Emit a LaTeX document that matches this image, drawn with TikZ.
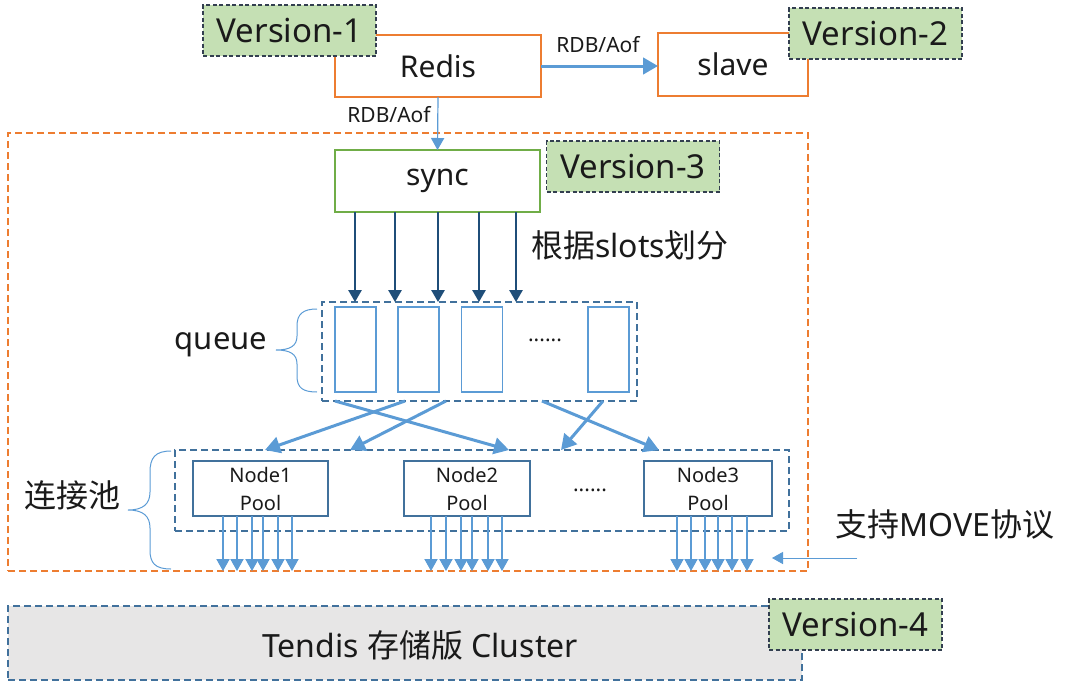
\documentclass[tikz,border=0pt]{standalone}
\usepackage{fontspec}
\setmainfont{Noto Sans}
\newfontfamily\cjk{Noto Sans CJK SC}
\usetikzlibrary{arrows.meta}
\definecolor{orng}{HTML}{ED7D31}
\definecolor{grfill}{HTML}{C5E0B4}
\definecolor{grline}{HTML}{70AD47}
\definecolor{lblue}{HTML}{5B9BD5}
\definecolor{dblue}{HTML}{1F4E79}
\definecolor{mblue}{HTML}{41719C}
\definecolor{vline}{HTML}{333F50}
\definecolor{gfill}{HTML}{E7E6E6}
\definecolor{txt}{HTML}{1A1A1A}
\tikzset{
  every node/.style={text=txt, inner sep=0pt, outer sep=0pt},
  obox/.style={draw=orng, line width=1.5pt, fill=white},
  verbox/.style={draw=vline, dashed, line width=1.3pt, dash pattern=on 4pt off 2.5pt, fill=grfill, minimum width=173pt, minimum height=51pt, font=\fontsize{33}{36}\selectfont},
  cell/.style={draw=lblue, line width=1.5pt, minimum width=41pt, minimum height=85pt},
  nodebox/.style={draw=mblue, line width=1.5pt, minimum height=55pt, align=center, font=\fontsize{20}{28}\selectfont},
  bdash/.style={draw=mblue, line width=1.5pt, dash pattern=on 7pt off 4pt},
  tip/.style={-{Triangle[width=#1*1.1, length=#1]}},
  thickarr/.style={lblue, line width=3pt, tip=15pt},
  thinarr/.style={lblue, line width=1.2pt, tip=12pt},
  darr/.style={dblue, line width=2.2pt, tip=12pt},
  brace/.style={lblue, line width=1pt},
  big/.style={font=\fontsize{32}{36}\selectfont},
  small/.style={font=\fontsize{21}{24}\selectfont},
}
\begin{document}
\begin{tikzpicture}[x=1pt,y=-1pt]
\useasboundingbox (0,0) rectangle (1080,686);
% outer orange dashed area
\node[draw=orng, line width=1.5pt, dash pattern=on 7pt off 4pt, minimum width=800pt, minimum height=438pt] (outer) at (408,352) {};
% top
\node[obox, minimum width=206pt, minimum height=62pt, font=\fontsize{30}{34}\selectfont] (redis) at (438,66) {Redis};
\node[obox, minimum width=150pt, minimum height=63pt, font=\fontsize{30}{34}\selectfont] (slave) at (733,64.5) {slave};
\node[verbox] (v1) at (289.5,30.5) {Version-1};
\node[verbox] (v2) at (875.5,33.5) {Version-2};
\draw[thickarr] (redis.east) -- (redis.east -| slave.west);
\node[small] (l1) at (598,45) {RDB/Aof};
% sync
\node[draw=grline, line width=1.5pt, fill=white, minimum width=205pt, minimum height=62pt, font=\fontsize{30}{34}\selectfont] (sync) at (437.5,181) {sync};
\node[verbox] (v3) at (633,166.5) {Version-3};
\draw[thinarr] (redis.south) -- (sync.north);
\node[small] (l2) at (389,115) {RDB/Aof};
% queue
\node[bdash, minimum width=315pt, minimum height=99pt] (queue) at (479.5,351.5) {};
\node[cell] (c1) at (355.5,349.5) {};
\node[cell] (c2) at (418.5,349.5) {};
\node[cell] (c3) at (482,349.5) {};
\node[cell] (c4) at (608.5,349.5) {};
\node[small] (qd) at (545,340) {......};
\node[big] (slots) at (630,245) {{\cjk 根据}slots{\cjk 划分}};
\foreach \x [count=\i] in {355,395,438,479,516} {
  \coordinate (dq\i) at (\x,0);
  \draw[darr] (sync.south -| dq\i) -- (queue.north -| dq\i);
}
\node[font=\fontsize{31}{34}\selectfont] (qlab) at (221,345) {queue};
\draw[brace] (317,309) .. controls (303,309) and (297,314) .. (297,326) -- (297,336) .. controls (297,346) and (290,350) .. (276,350)
  .. controls (290,350) and (297,354) .. (297,364) -- (297,376) .. controls (297,388) and (303,392) .. (317,392);
% pool
\node[bdash, minimum width=614pt, minimum height=81pt] (pool) at (482,490.5) {};
\node[nodebox, minimum width=135pt] (n1) at (260.5,488.5) {Node1\\Pool};
\node[nodebox, minimum width=126pt] (n2) at (467,488.5) {Node2\\Pool};
\node[nodebox, minimum width=128pt] (n3) at (708,488.5) {Node3\\Pool};
\node[small] (pd) at (590,490) {......};
% queue -> pool arrows
\coordinate (qa1) at (335,0); \coordinate (pa1) at (509,0);
\coordinate (qa2) at (405,0); \coordinate (pa2) at (265,0);
\coordinate (qa3) at (446,0); \coordinate (pa3) at (350,0);
\coordinate (qa4) at (542,0); \coordinate (pa4) at (659,0);
\coordinate (qa5) at (603,0); \coordinate (pa5) at (561,0);
\foreach \i in {1,...,5} {
  \draw[thickarr] (queue.south -| qa\i) -- (pool.north -| pa\i);
}
% pool arrows down
\foreach \x in {223,237,252,263,278,292} {
  \coordinate (pp) at (\x,0);
  \draw[thinarr] (n1.south -| pp) -- (outer.south -| pp);
}
\foreach \x in {431,446,461,472,488,502} {
  \coordinate (pp) at (\x,0);
  \draw[thinarr] (n2.south -| pp) -- (outer.south -| pp);
}
\foreach \x in {677,691,705,718,732,747} {
  \coordinate (pp) at (\x,0);
  \draw[thinarr] (n3.south -| pp) -- (outer.south -| pp);
}
\node[big] (pl) at (72,495) {\cjk 连接池};
\draw[brace] (171,451) .. controls (155,451) and (150,458) .. (150,472) -- (150,492) .. controls (150,504) and (143,510) .. (128,510)
  .. controls (143,510) and (150,516) .. (150,528) -- (150,550) .. controls (150,563) and (155,569) .. (171,569);
% MOVE
\node[big] (move) at (945,524) {{\cjk 支持}MOVE{\cjk 协议}};
\coordinate (ms) at (857,558);
\coordinate (me) at (772,558);
\draw[lblue, line width=1pt, tip=11pt] (ms) -- (me);
% tendis
\node[draw=mblue, line width=1.5pt, dash pattern=on 7pt off 4pt, fill=gfill, minimum width=794pt, minimum height=74pt] (tendis) at (405,643) {};
\node[big] (tl) at (420,645) {Tendis {\cjk 存储版} Cluster};
\node[verbox] (v4) at (855.5,624.5) {Version-4};
\end{tikzpicture}
\end{document}
